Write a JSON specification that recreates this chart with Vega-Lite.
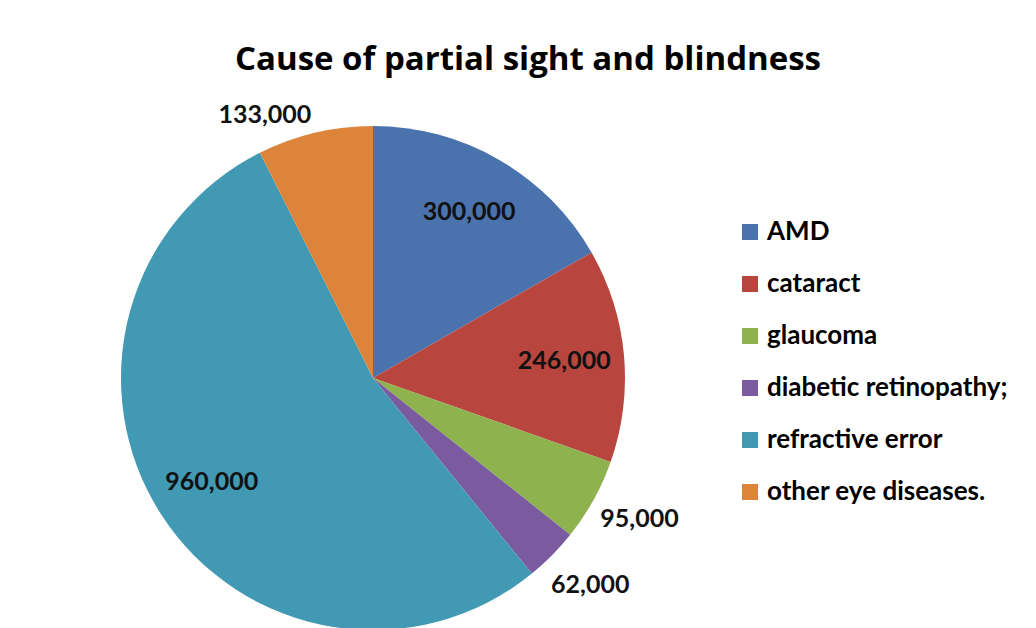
{
  "$schema": "https://vega.github.io/schema/vega-lite/v6.json",
  "autosize": "none",
  "padding": {"left": 0, "top": 0, "right": 290, "bottom": 0},
  "width": 746,
  "height": 756,
  "background": "white",
  "title": {
    "text": "Cause of partial sight and blindness",
    "font": "Open Sans",
    "fontSize": 33,
    "fontWeight": "bold",
    "color": "#000000",
    "anchor": "middle",
    "frame": "group",
    "dx": 155,
    "dy": 81
  },
  "data": {
    "values": [
      {"cause": "AMD", "count": 300000, "idx": 1},
      {"cause": "cataract", "count": 246000, "idx": 2},
      {"cause": "glaucoma", "count": 95000, "idx": 3},
      {"cause": "diabetic retinopathy;", "count": 62000, "idx": 4},
      {"cause": "refractive error", "count": 960000, "idx": 5},
      {"cause": "other eye diseases.", "count": 133000, "idx": 6}
    ]
  },
  "encoding": {
    "theta": {"field": "count", "type": "quantitative", "stack": true},
    "order": {"field": "idx", "type": "quantitative"}
  },
  "layer": [
    {
      "mark": {"type": "arc", "outerRadius": 252},
      "encoding": {
        "color": {
          "field": "cause",
          "type": "nominal",
          "scale": {
            "domain": ["AMD", "cataract", "glaucoma", "diabetic retinopathy;", "refractive error", "other eye diseases."],
            "range": ["#4a73ad", "#b8463f", "#8db24e", "#7a5ba0", "#4299b3", "#db843a"]
          },
          "legend": {
            "title": null,
            "orient": "none",
            "legendX": 737,
            "legendY": 219,
            "symbolType": "square",
            "symbolSize": 256,
            "symbolStrokeWidth": 0,
            "symbolOpacity": 1,
            "labelFont": "Lato",
            "labelFontSize": 26,
            "labelFontWeight": "bold",
            "labelColor": "#000000",
            "labelOffset": 4,
            "rowPadding": 26,
            "padding": 0,
            "labelLimit": 400
          }
        }
      }
    },
    {
      "mark": {"type": "text", "radius": 192, "font": "Lato", "fontSize": 25, "fontWeight": "bold", "color": "#111111"},
      "encoding": {
        "text": {
          "condition": {"test": "datum.idx == 1 || datum.idx == 2 || datum.idx == 5", "field": "count", "type": "quantitative", "format": ","},
          "value": ""
        }
      }
    },
    {
      "mark": {"type": "text", "radius": 300, "dx": 4, "dy": -4, "font": "Lato", "fontSize": 25, "fontWeight": "bold", "color": "#111111"},
      "encoding": {
        "text": {
          "condition": {"test": "datum.idx == 3 || datum.idx == 4", "field": "count", "type": "quantitative", "format": ","},
          "value": ""
        }
      }
    },
    {
      "mark": {"type": "text", "radius": 287, "dx": -42, "dy": 16, "font": "Lato", "fontSize": 25, "fontWeight": "bold", "color": "#111111"},
      "encoding": {
        "text": {
          "condition": {"test": "datum.idx == 6", "field": "count", "type": "quantitative", "format": ","},
          "value": ""
        }
      }
    }
  ]
}
